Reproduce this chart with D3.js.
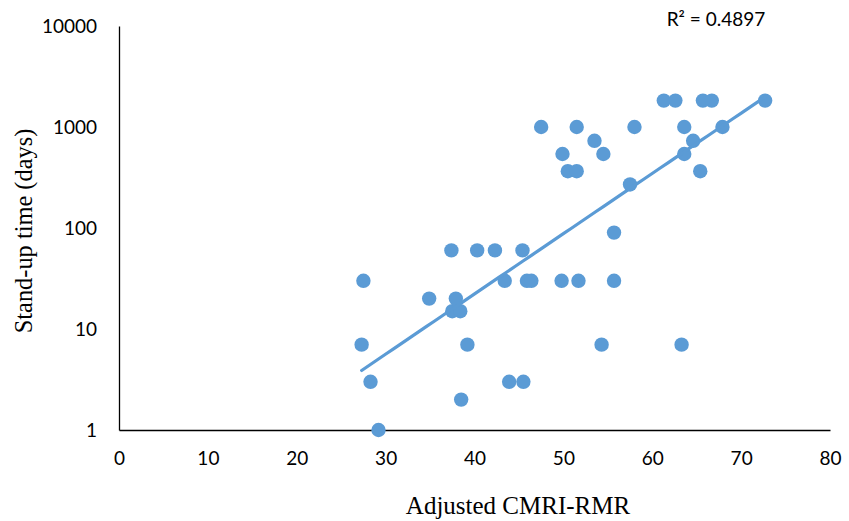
<!DOCTYPE html>
<html>
<head>
<meta charset="utf-8">
<script src="https://cdn.jsdelivr.net/npm/d3@7"></script>
<style>
  html, body { margin: 0; padding: 0; background: #fff; }
  svg { display: block; }
</style>
</head>
<body>
<svg id="chart" width="849" height="521"></svg>
<script>
// Adjusted CMRI-RMR rating for each case
const cmriRmr = [
  27.3, 27.5, 28.3, 29.2, 34.9, 37.4, 37.5, 37.9, 38.4, 38.5,
  39.2, 40.3, 42.3, 43.4, 43.9, 45.4, 45.5, 45.9, 46.4, 47.5,
  49.8, 49.9, 50.5, 51.5, 51.5, 51.7, 53.5, 54.5, 54.3, 55.7,
  55.7, 57.5, 58.0, 61.3, 62.6, 63.6, 63.6, 63.3, 64.6, 65.4,
  65.7, 66.7, 67.9, 72.7
];
// Stand-up time of the same cases, in days
const standUpDays = [
  7, 30, 3, 1, 20, 60, 15, 20, 15, 2,
  7, 60, 60, 30, 3, 60, 3, 30, 30, 1000,
  30, 540, 365, 365, 1000, 30, 730, 540, 7, 90,
  30, 270, 1000, 1825, 1825, 1000, 540, 7, 730, 365,
  1825, 1825, 1000, 1825
];
const xTicks = [0, 10, 20, 30, 40, 50, 60, 70, 80];
const yTicks = [1, 10, 100, 1000, 10000];
const rSquaredLabel = "R² = 0.4897";

const svg = d3.select("#chart");
const plot = { left: 119, right: 830, top: 26, bottom: 430 };
const dotColor = "#5B9BD5";
const sansFont = "Lato, 'Open Sans', sans-serif";
const serifFont = "'Liberation Serif', 'Times New Roman', serif";

const x = d3.scaleLinear().domain([0, 80]).range([plot.left, plot.right]);
const y = d3.scaleLog().domain([1, 10000]).range([plot.bottom, plot.top]);

// Axes: plain lines with labels, no tick marks
const xAxis = d3.axisBottom(x).tickValues(xTicks).tickSize(0).tickPadding(22)
  .tickFormat(d3.format("d"));
const yAxis = d3.axisLeft(y).tickValues(yTicks).tickSize(0).tickPadding(22)
  .tickFormat(d3.format("d"));

const gx = svg.append("g").attr("transform", `translate(0,${plot.bottom})`).call(xAxis);
const gy = svg.append("g").attr("transform", `translate(${plot.left},0)`).call(yAxis);
[gx, gy].forEach(g => {
  g.select(".domain").attr("stroke", "#000").attr("stroke-width", 1.3);
  g.selectAll("text")
    .attr("fill", "#000")
    .style("font-family", sansFont)
    .style("font-size", "19px");
});

// Exponential trend line: least squares fit of ln(days) against rating
const n = cmriRmr.length;
const lnY = standUpDays.map(v => Math.log(v));
const mx = d3.mean(cmriRmr), my = d3.mean(lnY);
let sxy = 0, sxx = 0;
for (let i = 0; i < n; i++) {
  sxy += (cmriRmr[i] - mx) * (lnY[i] - my);
  sxx += (cmriRmr[i] - mx) ** 2;
}
const b = sxy / sxx, a = my - b * mx;
const [xMin, xMax] = d3.extent(cmriRmr);
const trend = d3.range(0, 51).map(i => {
  const xv = xMin + (xMax - xMin) * i / 50;
  return [xv, Math.exp(a + b * xv)];
});

// Points
svg.append("g").selectAll("circle")
  .data(d3.zip(cmriRmr, standUpDays))
  .join("circle")
  .attr("cx", d => x(d[0]))
  .attr("cy", d => y(d[1]))
  .attr("r", 7.2)
  .attr("fill", dotColor);

svg.append("path")
  .datum(trend)
  .attr("d", d3.line().x(d => x(d[0])).y(d => y(d[1])))
  .attr("fill", "none")
  .attr("stroke", dotColor)
  .attr("stroke-width", 3.2)
  .attr("stroke-linecap", "round");

// Trend statistic
svg.append("text")
  .attr("x", 716).attr("y", 26)
  .attr("text-anchor", "middle")
  .style("font-family", sansFont)
  .style("font-size", "19px")
  .attr("fill", "#000")
  .text(rSquaredLabel);

// Axis titles
svg.append("text")
  .attr("x", 518).attr("y", 514)
  .attr("text-anchor", "middle")
  .style("font-family", serifFont)
  .style("font-size", "25px")
  .attr("fill", "#000")
  .text("Adjusted CMRI-RMR");

svg.append("text")
  .attr("transform", "translate(32,231) rotate(-90)")
  .attr("text-anchor", "middle")
  .style("font-family", serifFont)
  .style("font-size", "24.4px")
  .attr("fill", "#000")
  .text("Stand-up time (days)");
</script>
</body>
</html>
